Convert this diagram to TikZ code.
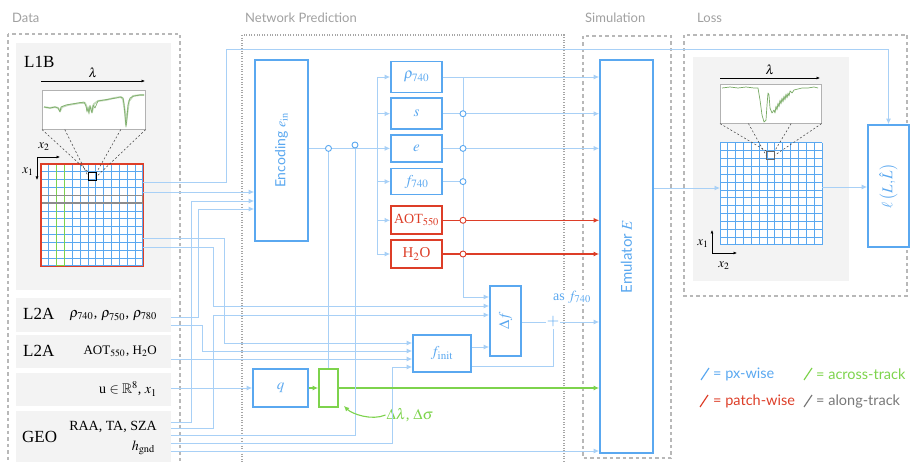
\documentclass[tikz,border=0pt]{standalone}
\usepackage{mathptmx}
\usepackage{amssymb}
\usepackage{graphicx}
\usepackage{fontspec}
\setmainfont{Liberation Serif}
\setsansfont{Lato}
\usetikzlibrary{arrows.meta,positioning,calc}

\definecolor{pxblue}{RGB}{90,168,240}
\definecolor{lnblue}{RGB}{168,208,246}
\definecolor{patchred}{RGB}{221,62,40}
\definecolor{acrossgreen}{RGB}{125,211,76}
\definecolor{alonggray}{RGB}{120,120,120}
\definecolor{secgray}{RGB}{160,160,160}
\definecolor{panelgray}{RGB}{243,243,243}
\definecolor{specgreen}{RGB}{120,170,100}

\begin{document}
\begin{tikzpicture}[x=1pt, y=-1pt,
  font=\sffamily,
  sec/.style={anchor=west, inner sep=0pt, text=secgray,
    font=\fontsize{13}{15}\sffamily},
  secframe/.style={draw=black!28, line width=1.3pt, dash pattern=on 3.5pt off 3pt},
  netframe/.style={draw=black!35, line width=1.1pt, dash pattern=on 1pt off 1.6pt},
  panel/.style={fill=panelgray, anchor=north west, inner sep=0pt,
    minimum width=155},
  src/.style={inner sep=0pt, anchor=west, font=\fontsize{17}{20}\selectfont},
  val/.style={inner sep=0pt, anchor=east, font=\fontsize{14}{17}\selectfont},
  blk/.style={draw=pxblue, line width=1.7pt, fill=white, text=pxblue,
    inner sep=0pt, font=\fontsize{15}{18}\selectfont},
  outbox/.style={blk, minimum width=51},
  poutbox/.style={outbox, draw=patchred, text=patchred},
  ln/.style={draw=lnblue, line width=0.9pt},
  arr/.style={ln, -{Latex[length=5.5pt, width=5pt]}},
  parr/.style={draw=patchred, line width=1.1pt, -{Latex[length=5.5pt, width=5pt]}},
  garr/.style={draw=acrossgreen, line width=1.1pt, -{Latex[length=5.5pt, width=5pt]}},
  jn/.style={circle, draw=pxblue, fill=white, line width=0.9pt,
    inner sep=0pt, minimum size=6},
  pjn/.style={jn, draw=patchred},
  zoomln/.style={black!75, line width=0.5pt, dash pattern=on 2pt off 2pt},
  axarr/.style={black, line width=0.6pt, -{Latex[length=3.5pt, width=3pt]}},
  axlbl/.style={inner sep=0pt, font=\fontsize{13}{15}\selectfont},
  cube/.style={minimum size=102, inner sep=0pt, anchor=north west, fill=white},
  gridln/.style={draw=pxblue, line width=1pt},
  lg/.style={anchor=west, inner sep=0pt, font=\fontsize{14.5}{17}\sffamily}
]
  \useasboundingbox (0,0) rectangle (910,462);

  % section frames
  \node[sec] (tdata) at (12,18) {Data};
  \node[sec] (tnet) at (245,18) {Network Prediction};
  \node[sec] (tsim) at (585,18) {Simulation};
  \node[sec] (tloss) at (697,18) {Loss};
  \draw[secframe] (8,34) rectangle (180,480);
  \draw[netframe] (242,35) rectangle (564,480);
  \draw[secframe] (583,36) rectangle (671,458);
  \draw[secframe] (684,35) rectangle (907,296);

  % data panels
  \node[panel, minimum height=247] (l1b) at (16,43) {};
  \node[panel, minimum height=34] (rhoL) at (16,298) {};
  \node[panel, minimum height=33] (aotL) at (16,335) {};
  \node[panel, minimum height=33] (uL) at (16,373) {};
  \node[panel, minimum height=60] (geo) at (16,411) {};

  \node[src] (l2aT) at (23,314) {L2A};
  \node[src] (l1bT) at (24,62) {L1B};
  \node[val] (rhoT) at (157,316) {$\rho_{740}$\kern0.5pt,\kern4pt$\rho_{750}$\kern0.5pt,\kern4pt$\rho_{780}$};
  \node[src] (l2bT) at (23,351) {L2A};
  \node[val, font=\fontsize{13}{16}\selectfont] (aotT) at (157,351) {AOT$_{550}$\kern1pt, H$_2$O};
  \node[val] (uT) at (157,389) {u $\in\mathbb{R}^8$,\ $x_1$};
  \node[src] (geoT) at (22,437) {GEO};
  \node[val] (geoA) at (157,427) {RAA, TA, SZA};
  \node[val] (geoB) at (155,448) {$h_{\mathrm{gnd}}$};

  % L1B cube
  \draw[axarr] (41,81) -- (145,81) node[midway, above=3pt, axlbl] (lamA) {$\lambda$};
  \node[draw=black!30, fill=white, line width=0.6pt, inner sep=0pt,
    minimum width=103, minimum height=39, anchor=north west] (specA) at (42,90) {};
  \draw[specgreen!45, line width=1.8pt, line join=round]
    plot coordinates {(44,107) (50,108) (55,107) (58,108) (60,111) (62,107) (68,105)
      (74,104) (80,103) (85,103) (88,110) (90,106) (92,112) (94,104) (98,101)
      (106,100) (114,98) (121,97) (123,99) (125,112) (126,125) (127,116) (129,101)
      (133,96) (140,95) (144,95)};
  \draw[specgreen, line width=0.6pt, line join=round]
    plot coordinates {(44,107) (50,108) (55,107) (58,108) (60,112) (61,107) (66,105)
      (72,104) (78,103) (84,102) (86,106) (87,112) (88,108) (89,114) (90,106)
      (92,113) (93,105) (95,108) (98,101) (104,100) (110,99) (116,98) (120,97)
      (123,98) (124,104) (125,115) (126,127) (127,118) (128,105) (130,98)
      (134,96) (140,95) (144,95)};
  \node[cube] (grid) at (41,164) {};
  \foreach \i in {0,...,13} {
    \draw[gridln] ([xshift=\i*7.846pt]grid.north west) -- ([xshift=\i*7.846pt]grid.south west);
    \draw[gridln] ([yshift=-\i*7.846pt]grid.north west) -- ([yshift=-\i*7.846pt]grid.north east);
  }
  \draw[acrossgreen, line width=1.4pt] (56.7,164) rectangle (64.5,266);
  \draw[black!45, line width=1.4pt] (41,195.4) rectangle (143,203.2);
  \draw[patchred, line width=1.6pt] (grid.north west) rectangle (grid.south east);
  \node[draw=black, line width=1pt, minimum size=7.8, inner sep=0pt,
    anchor=north west] (pxA) at (88.1,171.8) {};
  \draw[zoomln] (specA.south west) -- (pxA.north west);
  \draw[zoomln] ($(specA.south west)!0.22!(specA.south east)$) -- (pxA.west);
  \draw[zoomln] ($(specA.south west)!0.76!(specA.south east)$) -- (pxA.north east);
  \draw[zoomln] (specA.south east) -- (pxA.east);
  \draw[axarr] (37,157) -- (60,157);
  \draw[axarr] (37,157) -- (37,180);
  \node[axlbl] (x2A) at (44,147) {$x_2$};
  \node[axlbl] (x1A) at (28,172) {$x_1$};

  % network blocks
  \node[blk, minimum width=53, minimum height=181] (enc) at (281.5,150.5)
    {\rotatebox{90}{\fontsize{14}{16}\sffamily Encoding $e_{\mathrm{in}}$}};
  \node[outbox, minimum height=31] (prho) at (416.5,77) {$\rho_{740}$};
  \node[outbox, minimum height=31, below=4pt of prho] (ps) {$s$};
  \node[outbox, minimum height=27, below=4pt of ps] (pe) {$e$};
  \node[outbox, minimum height=26, below=5pt of pe] (pf) {$f_{740}$};
  \node[poutbox, minimum height=28, below=10pt of pf, font=\fontsize{14}{17}\selectfont] (paot) {AOT$_{550}$};
  \node[poutbox, minimum height=28, below=4pt of paot] (ph2o) {H$_2$O};
  \node[blk, minimum width=31, minimum height=70] (df) at (505.5,321) {\rotatebox{90}{$\Delta f$}};
  \node[blk, minimum width=58, minimum height=37] (finit) at (442,353.5) {$f_{\mathrm{init}}$};
  \node[blk, minimum width=55, minimum height=38] (q) at (280.5,388) {$q$};
  \node[blk, draw=acrossgreen, minimum width=19, minimum height=38] (shiftq) at (328.5,388) {};
  \node[text=pxblue, inner sep=1pt, font=\fontsize{16}{18}\selectfont] (plus) at (553,322) {$+$};
  \node[text=pxblue, fill=white, inner sep=1pt, font=\fontsize{14}{17}\selectfont] (asf) at (572,297) {as $f_{740}$};
  \node[text=acrossgreen, inner sep=1pt, font=\fontsize{15}{18}\selectfont] (dlds) at (410,415) {$\Delta\lambda$, $\Delta\sigma$};

  % simulation
  \node[blk, minimum width=53, minimum height=393] (emu) at (626.5,256.5)
    {\rotatebox{90}{\fontsize{15}{18}\sffamily Emulator $E$}};

  % loss
  \fill[panelgray] (693,57) rectangle (849,281);
  \draw[axarr] (720,78) -- (820,78) node[midway, above=3pt, axlbl] (lamB) {$\lambda$};
  \node[draw=black!30, fill=white, line width=0.6pt, inner sep=0pt,
    minimum width=101, minimum height=39, anchor=north west] (specB) at (720,84) {};
  \draw[specgreen, line width=0.7pt, line join=round]
    plot coordinates {(722,88) (730,87) (738,88) (746,87) (754,88) (758,88) (760,100)
      (762,115) (764,122) (766,120) (767,105) (768,93) (769,95) (770,108) (772,113)
      (774,110) (775,113) (776,106) (777,110) (778,103) (779,107) (780,100) (781,104)
      (782,98) (783,102) (784,96) (785,100) (786,94) (787,98) (788,93) (789,96)
      (790,91) (792,93) (794,90) (798,89) (802,88) (808,88) (814,87) (818,88)};
  \node[cube] (lgrid) at (720,143) {};
  \foreach \i in {0,...,13} {
    \draw[gridln] ([xshift=\i*7.846pt]lgrid.north west) -- ([xshift=\i*7.846pt]lgrid.south west);
    \draw[gridln] ([yshift=-\i*7.846pt]lgrid.north west) -- ([yshift=-\i*7.846pt]lgrid.north east);
  }
  \node[draw=black!60, line width=1pt, minimum size=7.8, inner sep=0pt,
    anchor=north west] (pxB) at (766,150.8) {};
  \draw[zoomln] (specB.south west) -- (pxB.north west);
  \draw[zoomln] ($(specB.south west)!0.28!(specB.south east)$) -- (pxB.west);
  \draw[zoomln] ($(specB.south west)!0.70!(specB.south east)$) -- (pxB.north east);
  \draw[zoomln] (specB.south east) -- (pxB.east);
  \draw[axarr] (712,253) -- (712,230);
  \draw[axarr] (712,253) -- (737,253);
  \node[axlbl] (x1B) at (703,244) {$x_1$};
  \node[axlbl] (x2B) at (724,266) {$x_2$};
  \node[blk, minimum width=41, minimum height=122] (loss) at (888.5,186)
    {\rotatebox{90}{$\ell\left(L,\hat{L}\right)$}};

  % connectors
  \coordinate (bus) at (377,0);
  \coordinate (rbus) at (463,0);
  \coordinate (j1) at (shiftq.north |- pe);
  \coordinate (j2) at (355,145);

  \draw[arr] (grid.east |- 0,182) -| (226,49) -| (loss.north);
  \draw[arr] (grid.east |- 0,192) -- (enc.west |- 0,192);
  \draw[arr] (geo.east |- 0,422) -| (191,201) -- (enc.west |- 0,201);
  \draw[arr] (rhoL.east |- 0,317) -| (198,209) -- (enc.west |- 0,209);

  \draw[arr] (enc.east |- pe) -- (pe.west);
  \draw[ln] (bus |- prho) -- (bus |- ph2o);
  \foreach \n in {prho,ps,pf,paot,ph2o}
    \draw[arr] (bus |- \n) -- (\n.west);

  \draw[arr] (prho.east) -- (emu.west |- prho);
  \draw[arr] (ps.east) -- (emu.west |- ps);
  \draw[arr] (pe.east) -- (emu.west |- pe);
  \draw[ln] (pf.east) -- (rbus |- pf);
  \draw[parr] (paot.east) -- (emu.west |- paot);
  \draw[parr] (ph2o.east) -- (emu.west |- ph2o);
  \draw[arr] (rbus |- prho) -- (rbus |- 0,297) -- (df.west |- 0,297);

  \draw[arr] (grid.east |- 0,247) -| (213,306) -- (df.west |- 0,306);
  \draw[arr] (geo.east |- 0,428) -| (213,315) -- (df.west |- 0,315);
  \draw[arr] (grid.east |- 0,238) -| (224,343) -- (finit.west |- 0,343);
  \draw[arr] (rhoL.east |- 0,325) -| (202,351) -- (finit.west |- 0,351);
  \draw[arr] (aotL.east |- 0,359) -- (finit.west |- 0,359);
  \draw[arr] (geo.east |- 0,443) -| (392,367) -- (finit.west |- 0,367);
  \draw[arr] (finit.east |- 0,347) -- (df.west |- 0,347);
  \draw[ln] (finit.east |- 0,366) -| (plus.south);
  \draw[ln] (df.east |- plus) -- (plus.west);
  \draw[arr] (plus.east) -- (emu.west |- plus);

  \draw[arr] (uL.east |- q) -- (q.west);
  \draw[garr] (q.east) -- (shiftq.west);
  \draw[garr] (shiftq.east) -- (emu.west |- shiftq);
  \draw[ln] (j1) -- (shiftq.north);
  \draw[ln] (geo.east |- 0,435) -| (j2);
  \draw[garr] (dlds.west) .. controls +(-14,6) and +(8,8)
    .. ([xshift=5pt, yshift=2pt]shiftq.south east);
  \draw[arr] (geo.east |- 0,451) -- (emu.west |- 0,451);

  \draw[arr] (emu.east |- 0,188) -- (lgrid.west |- 0,188);
  \draw[arr] (lgrid.east |- 0,187) -- (loss.west |- 0,187);

  % junctions
  \node[jn] (cj1) at (j1) {};
  \node[jn] (cj2) at (j2) {};
  \node[jn] (cs) at (rbus |- ps) {};
  \node[jn] (ce) at (rbus |- pe) {};
  \node[jn] (cf) at (rbus |- pf) {};
  \node[pjn] (caot) at (rbus |- paot) {};
  \node[pjn] (ch2o) at (rbus |- ph2o) {};

  % legend
  \draw[pxblue, line width=1.2pt] (701,380) -- (709,368);
  \node[lg, text=pxblue] (lgpx) at (713,374) {= px-wise};
  \draw[acrossgreen, line width=1.2pt] (804,380) -- (812,368);
  \node[lg, text=acrossgreen] (lgac) at (816,374) {= across-track};
  \draw[patchred, line width=1.2pt] (700,407) -- (708,395);
  \node[lg, text=patchred] (lgpa) at (713,401) {= patch-wise};
  \draw[alonggray, line width=1.2pt] (804,407) -- (812,395);
  \node[lg, text=alonggray] (lgal) at (816,401) {= along-track};
\end{tikzpicture}
\end{document}
